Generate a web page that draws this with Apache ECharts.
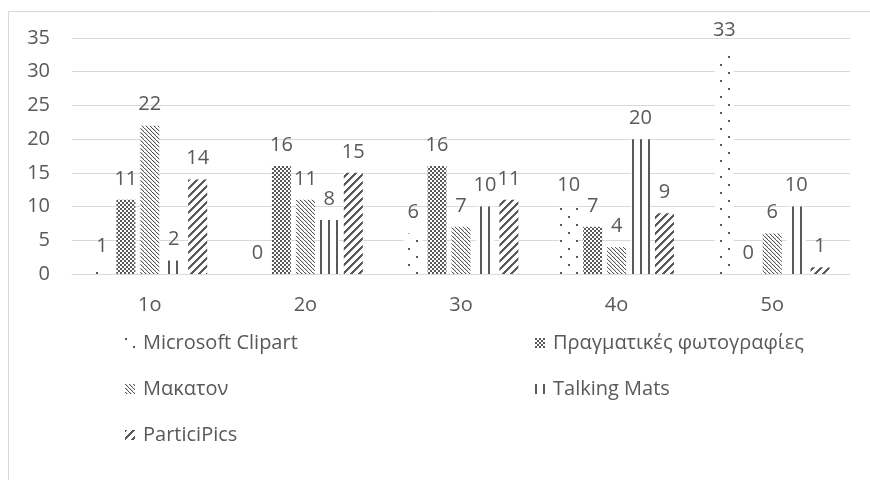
<!DOCTYPE html>
<html><head><meta charset="utf-8">
<script src="https://cdn.jsdelivr.net/npm/echarts@6/dist/echarts.min.js"></script>
<style>html,body{margin:0;padding:0;background:#fff}#c{width:870px;height:480px}</style>
</head><body><div id="c"></div>
<script>
const categories = ['1o','2o','3o','4o','5o'];
const seriesNames = ['Microsoft Clipart','Πραγματικές φωτογραφίες','Μακατον','Talking Mats','ParticiPics'];
const clipart = [1, 0, 6, 10, 33];
const pragmatikes = [11, 16, 16, 7, 0];
const makaton = [22, 11, 7, 4, 6];
const talkingMats = [2, 8, 10, 20, 10];
const participics = [14, 15, 11, 9, 1];
const yTicks = [0, 35, 5];

const DARK = '#595959';
function tile(w, h, draw) {
  const c = document.createElement('canvas');
  c.width = w; c.height = h;
  const g = c.getContext('2d');
  g.fillStyle = '#fff'; g.fillRect(0, 0, w, h);
  g.fillStyle = DARK;
  draw(g, w, h);
  return { image: c, repeat: 'repeat' };
}
const patterns = [
  tile(16, 16, g => { g.fillRect(0, 0, 2, 2); g.fillRect(8, 8, 2, 2); }),
  tile(4, 4, g => { g.fillRect(0, 0, 2, 2); g.fillRect(2, 2, 2, 2); }),
  tile(4, 4, g => { for (let i = 0; i < 4; i++) g.fillRect(i, i, 1.3, 1); }),
  tile(8, 1, g => { g.fillRect(0, 0, 2, 1); }),
  tile(8, 8, g => { for (let i = 0; i < 8; i++) { for (let k = 0; k < 3; k++) g.fillRect((7 - i + k) % 8, i, 1, 1); } })
];
const values = [clipart, pragmatikes, makaton, talkingMats, participics];
const FONT = 'Open Sans';
const TXT = '#595959';

const legendPos = [
  {left: 120, top: 328}, {left: 530, top: 328},
  {left: 120, top: 374}, {left: 530, top: 374},
  {left: 120, top: 420}
];

const chart = echarts.init(document.getElementById('c'), null, {renderer: 'canvas'});
chart.setOption({
  animation: false,
  backgroundColor: '#fff',
  textStyle: {fontFamily: FONT},
  graphic: [{type: 'rect', shape: {x: 8.5, y: 11.5, width: 900, height: 600}, style: {fill: 'none', stroke: '#d9d9d9', lineWidth: 1}, silent: true}],
  grid: {left: 72, right: 20, top: 38, bottom: 206, containLabel: false},
  legend: seriesNames.map((n, i) => ({
    data: [n], left: legendPos[i].left, top: legendPos[i].top,
    itemWidth: 10, itemHeight: 10, itemGap: 0, icon: 'rect',
    textStyle: {color: TXT, fontSize: 20, fontFamily: FONT, padding: [0, 0, 0, 3]},
    selectedMode: false
  })),
  xAxis: {
    type: 'category', data: categories,
    axisLine: {show: true, lineStyle: {color: '#d9d9d9', width: 1}},
    axisTick: {show: false},
    axisLabel: {color: TXT, fontSize: 20, fontFamily: FONT, margin: 21}
  },
  yAxis: {
    type: 'value', min: yTicks[0], max: yTicks[1], interval: yTicks[2],
    axisLine: {show: false}, axisTick: {show: false},
    splitLine: {lineStyle: {color: '#d9d9d9', width: 1}},
    axisLabel: {color: TXT, fontSize: 20, fontFamily: FONT, margin: 22}
  },
  series: seriesNames.map((n, i) => ({
    name: n, type: 'bar', data: values[i],
    barWidth: 19, barGap: '26%',
    itemStyle: {color: patterns[i]},
    label: {show: true, position: 'top', distance: 11, color: TXT, fontSize: 20, fontFamily: FONT}
  }))
});
</script></body></html>
